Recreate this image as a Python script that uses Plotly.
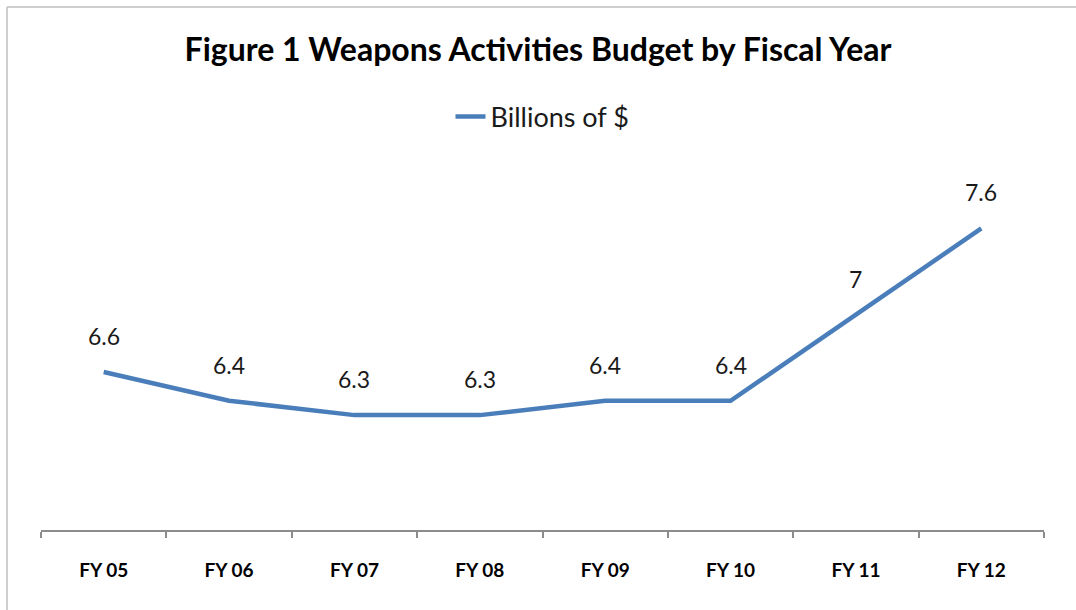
import plotly.graph_objects as go

categories = ["FY 05", "FY 06", "FY 07", "FY 08", "FY 09", "FY 10", "FY 11", "FY 12"]
values = [6.6, 6.4, 6.3, 6.3, 6.4, 6.4, 7, 7.6]
labels = ["6.6", "6.4", "6.3", "6.3", "6.4", "6.4", "7", "7.6"]
series_name = "Billions of $"
title_text = "Figure 1 Weapons Activities Budget by Fiscal Year"

FONT = "Lato"
LINE_COLOR = "#4a7ebb"

fig = go.Figure()
fig.add_trace(go.Scatter(
    x=categories, y=values, mode="lines", name=series_name,
    line=dict(color=LINE_COLOR, width=4.5),
    hoverinfo="skip",
))

for c, v, t in zip(categories, values, labels):
    fig.add_annotation(x=c, y=v, text=t, showarrow=False, yshift=36,
                       font=dict(family=FONT, size=23, color="#1a1a1a"))

W, H = 1076, 610
L, R, T, B = 41, 32, 171, 80
pw, ph = W - L - R, H - T - B

def px(x):
    return (x - L) / pw

def py(y):
    return (H - B - y) / ph

fig.add_shape(type="line", xref="paper", yref="paper",
              x0=px(7), x1=px(1076), y0=py(7), y1=py(7),
              line=dict(color="#bfbfbf", width=1.5))
fig.add_shape(type="line", xref="paper", yref="paper",
              x0=px(7), x1=px(7), y0=py(7), y1=py(610),
              line=dict(color="#bfbfbf", width=1.5))

fig.update_layout(
    width=W, height=H,
    margin=dict(l=L, r=R, t=T, b=B),
    paper_bgcolor="white", plot_bgcolor="white",
    title=dict(text="<b>" + title_text + "</b>", x=0.5, xanchor="center",
               y=1 - 50 / H, yanchor="middle", yref="container",
               font=dict(family=FONT, size=32, color="#000000")),
    showlegend=True,
    legend=dict(orientation="h", x=0.5, xanchor="center", y=py(117), yanchor="middle",
                font=dict(family=FONT, size=27, color="#1a1a1a"),
                bgcolor="rgba(0,0,0,0)"),
    xaxis=dict(type="category", range=[-0.5, len(categories) - 0.5],
               showline=True, linecolor="#8c8c8c", linewidth=1.5,
               ticks="outside", ticklen=6, tickcolor="#8c8c8c", tickwidth=1.5,
               tickson="boundaries", showgrid=False, zeroline=False,
               ticklabelstandoff=22,
               tickfont=dict(family=FONT, size=19, color="#000000"),
               tickprefix="<b>", ticksuffix="</b>"),
    yaxis=dict(range=[5.5, 8], visible=False, showgrid=False, zeroline=False),
)

fig.write_html("out.html", config={"displayModeBar": False},
               post_script="document.body.style.margin='0';document.body.style.overflow='hidden';")
